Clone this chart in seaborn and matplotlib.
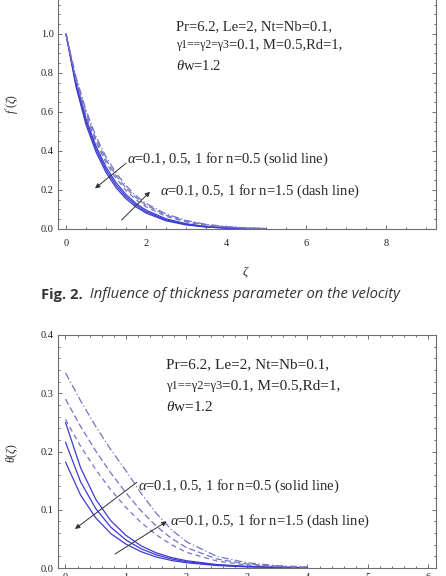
import matplotlib
matplotlib.use("Agg")
import matplotlib.pyplot as plt
import seaborn as sns
from matplotlib.ticker import MultipleLocator, FormatStrFormatter

# ---------------- data ----------------
zeta_f = [0, 0.25, 0.5, 0.75, 1.0, 1.25, 1.5, 1.75, 2.0, 2.5, 3.0, 3.5, 4.0, 4.5, 5.0]
# velocity f'(zeta), n = 0.5 (solid), alpha = 0.1, 0.5, 1
f_solid_a01 = [1.0, 0.75, 0.565, 0.425, 0.318, 0.238, 0.177, 0.131, 0.097, 0.052, 0.027, 0.013, 0.006, 0.0025, 0.001]
f_solid_a05 = [1.0, 0.74, 0.55, 0.41, 0.304, 0.225, 0.166, 0.122, 0.089, 0.047, 0.024, 0.011, 0.005, 0.002, 0.0008]
f_solid_a1 = [1.0, 0.73, 0.535, 0.395, 0.29, 0.212, 0.155, 0.113, 0.082, 0.042, 0.021, 0.01, 0.0045, 0.0018, 0.0007]
# n = 1.5 (dashed)
f_dash_a01 = [1.0, 0.76, 0.58, 0.445, 0.34, 0.26, 0.198, 0.15, 0.114, 0.065, 0.036, 0.019, 0.0095, 0.0045, 0.002]
f_dash_a05 = [1.0, 0.77, 0.595, 0.46, 0.355, 0.274, 0.21, 0.161, 0.123, 0.071, 0.04, 0.022, 0.011, 0.0053, 0.0024]
f_dash_a1 = [1.0, 0.78, 0.61, 0.475, 0.37, 0.288, 0.222, 0.171, 0.131, 0.077, 0.044, 0.024, 0.0125, 0.006, 0.0028]

zeta_t = [0, 0.25, 0.5, 0.75, 1.0, 1.25, 1.5, 1.75, 2.0, 2.5, 3.0, 3.5, 4.0]
# temperature theta(zeta), n = 0.5 (solid)
t_solid_a01 = [0.25, 0.172, 0.118, 0.081, 0.056, 0.038, 0.026, 0.018, 0.0125, 0.0059, 0.0028, 0.0013, 0.0006]
t_solid_a05 = [0.216, 0.148, 0.102, 0.070, 0.048, 0.033, 0.0227, 0.0156, 0.0107, 0.0051, 0.0024, 0.0011, 0.0005]
t_solid_a1 = [0.182, 0.125, 0.086, 0.059, 0.041, 0.028, 0.019, 0.013, 0.009, 0.0043, 0.002, 0.0009, 0.0004]
# n = 1.5 (dashed)
t_dash_a01 = [0.255, 0.209, 0.169, 0.134, 0.104, 0.078, 0.057, 0.04, 0.027, 0.012, 0.0052, 0.0022, 0.001]
t_dash_a05 = [0.29, 0.243, 0.201, 0.163, 0.129, 0.098, 0.072, 0.051, 0.035, 0.0155, 0.0068, 0.003, 0.0013]
t_dash_a1 = [0.335, 0.287, 0.243, 0.203, 0.167, 0.128, 0.094, 0.066, 0.045, 0.020, 0.009, 0.004, 0.0018]

param_line1 = "Pr=6.2, Le=2, Nt=Nb=0.1,"
param_gamma = "γ1==γ2=γ3"
param_line2 = "=0.1, M=0.5,Rd=1,"
param_line3 = r"$\theta$w=1.2"
label_solid = r"$\alpha$=0.1, 0.5, 1 for n=0.5 (solid line)"
label_dash = r"$\alpha$=0.1, 0.5, 1 for n=1.5 (dash line)"
caption_bold = "Fig. 2."
caption_text = "Influence of thickness parameter on the velocity"

# ---------------- style ----------------
sns.set_style("ticks")
plt.rcParams["font.family"] = ["Liberation Serif", "DejaVu Serif"]
plt.rcParams["mathtext.fontset"] = "custom"
plt.rcParams["mathtext.rm"] = "Liberation Serif"
plt.rcParams["mathtext.it"] = "Liberation Serif:italic"
plt.rcParams["mathtext.bf"] = "Liberation Serif:bold"

SPINE = "#6e6e6e"
SOLID_C = "#3c3cd2"
DASH_C = "#7474c4"
DASH_STYLES = [(0, (4, 3)), (0, (5, 2.5)), (0, (6, 2, 1, 2))]

fig = plt.figure(figsize=(4.46, 5.76), dpi=100)
ax1 = fig.add_axes([58 / 446, 1 - 229 / 576, (436 - 58) / 446, 229 / 576])
ax2 = fig.add_axes([57.5 / 446, 1 - 568 / 576, (436 - 57.5) / 446, (568 - 335) / 576])


def style_axes(ax, xmaj, xmin, ymaj, ymin, xpad, show_top=True):
    for s in ax.spines.values():
        s.set_color(SPINE)
        s.set_linewidth(0.8)
    ax.spines["top"].set_visible(show_top)
    ax.xaxis.set_major_locator(MultipleLocator(xmaj))
    ax.xaxis.set_minor_locator(MultipleLocator(xmin))
    ax.yaxis.set_major_locator(MultipleLocator(ymaj))
    ax.yaxis.set_minor_locator(MultipleLocator(ymin))
    ax.yaxis.set_major_formatter(FormatStrFormatter("%.1f"))
    ax.xaxis.set_major_formatter(FormatStrFormatter("%d"))
    ax.tick_params(which="both", direction="in", top=show_top, right=True,
                   color=SPINE, width=0.7, labelsize=7.5, labelcolor="#222222")
    ax.tick_params(which="major", length=3.2)
    ax.tick_params(which="minor", length=1.7)
    ax.tick_params(axis="y", pad=3)
    ax.tick_params(axis="x", pad=xpad)
    ax.set_xlabel("")
    ax.set_ylabel("")


# ---------------- top: velocity ----------------
for ys in (f_solid_a01, f_solid_a05, f_solid_a1):
    sns.lineplot(x=zeta_f, y=ys, ax=ax1, color=SOLID_C, lw=0.9, estimator=None, sort=False)
for ys, ls in zip((f_dash_a01, f_dash_a05, f_dash_a1), DASH_STYLES):
    sns.lineplot(x=zeta_f, y=ys, ax=ax1, color=DASH_C, lw=0.9, linestyle=ls, estimator=None, sort=False)
ax1.set_xlim(-0.2, 9.25)
ax1.set_ylim(0, 1.174)
style_axes(ax1, 2, 0.5, 0.2, 0.05, xpad=7, show_top=False)

# parameter block
ax1.text(175.7 / 446, 1 - 27 / 576, param_line1, transform=fig.transFigure,
         fontsize=10.5, va="center", ha="left")
tg = ax1.text(175.7 / 446, 1 - 48 / 576, param_gamma, transform=fig.transFigure,
              fontsize=8.5, va="baseline", ha="left")
ax1.annotate(param_line2, xy=(1, 0), xycoords=tg, fontsize=10.5, va="bottom", ha="left")
ax1.text(175.7 / 446, 1 - 66 / 576, param_line3, transform=fig.transFigure,
         fontsize=10.5, va="center", ha="left")

ax1.text(1.52, 0.357, label_solid, fontsize=10.5, va="center", ha="left")
ax1.text(2.35, 0.191, label_dash, fontsize=10.5, va="center", ha="left")
arrow_kw = dict(arrowstyle="-|>", color="#333333", lw=0.7, mutation_scale=7, shrinkA=0, shrinkB=0)
ax1.annotate("", xy=(0.725, 0.208), xytext=(1.5, 0.337), arrowprops=arrow_kw)
ax1.annotate("", xy=(2.1, 0.191), xytext=(1.39, 0.046), arrowprops=arrow_kw)

fig.text(12 / 446, 1 - 104 / 576, r"$f'(\zeta)$", rotation=90, fontsize=8.5, ha="center", va="center")
fig.text(246 / 446, 1 - 272 / 576, r"$\zeta$", fontsize=9, ha="center", va="center")

# caption
cap = fig.text(40.7 / 446, 1 - 295 / 576, caption_bold, fontsize=10.6, fontweight="bold",
               family=["Open Sans", "DejaVu Sans"], color="#333333", ha="left", va="center")
ax1.annotate("  " + caption_text, xy=(1, 0.5), xycoords=cap, fontsize=10.6, fontstyle="italic",
             family=["Open Sans", "DejaVu Sans"], color="#333333", ha="left", va="center",
             annotation_clip=False)

# ---------------- bottom: temperature ----------------
for ys in (t_solid_a01, t_solid_a05, t_solid_a1):
    sns.lineplot(x=zeta_t, y=ys, ax=ax2, color=SOLID_C, lw=0.9, estimator=None, sort=False)
for ys, ls in zip((t_dash_a01, t_dash_a05, t_dash_a1), DASH_STYLES):
    sns.lineplot(x=zeta_t, y=ys, ax=ax2, color=DASH_C, lw=0.9, linestyle=ls, estimator=None, sort=False)
ax2.set_xlim(-0.132, 6.124)
ax2.set_ylim(0, 0.4)
style_axes(ax2, 1, 0.2, 0.1, 0.02, xpad=3.5, show_top=True)

ax2.text(165.7 / 446, 1 - 364.7 / 576, param_line1, transform=fig.transFigure,
         fontsize=11, va="center", ha="left")
tg2 = ax2.text(165.7 / 446, 1 - 389 / 576, param_gamma, transform=fig.transFigure,
               fontsize=9, va="baseline", ha="left")
ax2.annotate(param_line2, xy=(1, 0), xycoords=tg2, fontsize=11, va="bottom", ha="left")
ax2.text(165.7 / 446, 1 - 407 / 576, param_line3, transform=fig.transFigure,
         fontsize=11, va="center", ha="left")

ax2.text(1.203, 0.1404, label_solid, fontsize=10.5, va="center", ha="left")
ax2.text(1.727, 0.0803, label_dash, fontsize=10.5, va="center", ha="left")
ax2.annotate("", xy=(0.157, 0.067), xytext=(1.177, 0.147), arrowprops=arrow_kw)
ax2.annotate("", xy=(1.673, 0.080), xytext=(0.818, 0.024), arrowprops=arrow_kw)

fig.text(12 / 446, 1 - 453 / 576, r"$\theta(\zeta)$", rotation=90, fontsize=8.5, ha="center", va="center")

fig.savefig("out.png", dpi=100, facecolor="white")
